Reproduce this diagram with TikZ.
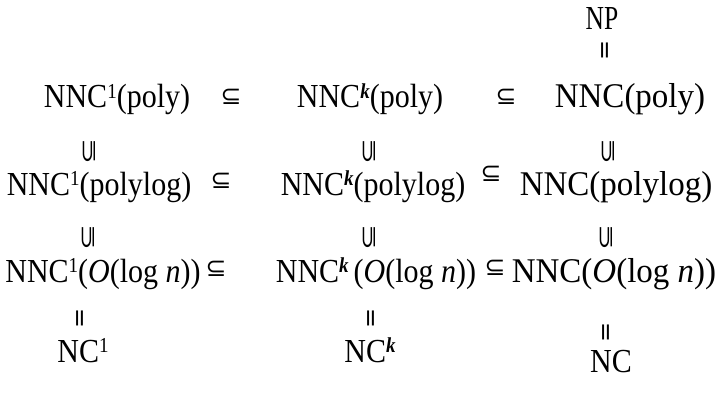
\documentclass[tikz,border=0pt]{standalone}
\usepackage{fontspec}
\setmainfont{Liberation Serif}
\newfontfamily\relfont{DejaVu Sans}
\usetikzlibrary{positioning}

\newcommand{\one}{\raisebox{8.5pt}{\fontsize{19}{22}\selectfont 1}}
\newcommand{\kexp}{\raisebox{8.5pt}{\fontsize{19}{22}\selectfont\bfseries\itshape k}}
\newcommand{\olog}{(\textit{O}(log \textit{n}))}
\newcommand{\tall}[1]{\scalebox{1}[1.12]{#1}}
\newcommand{\subs}{\scalebox{1.25}[0.8]{⊆}}

\begin{document}
\begin{tikzpicture}[
        x=1pt, y=-1pt,
        class/.style={inner sep=0pt, anchor=base, font=\fontsize{30}{36}\selectfont},
        wide/.style={class, font=\fontsize{33}{40}\selectfont},
        incl/.style={inner sep=0pt, font=\relfont\fontsize{25}{30}\selectfont},
        vincl/.style={incl, rotate=90},
        veq/.style={incl, rotate=90, font=\relfont\fontsize{24}{28}\selectfont}
    ]
    \useasboundingbox (0,0) rectangle (720,401);
    % poly
    \node[class] (np) at (602,30) {\scalebox{0.85}[1.12]{NP}};
    \node[veq] (e0) at (607,50) {=};
    \node[class] (p1) at (117,108) {\tall{NNC\one(poly)}};
    \node[incl] (s11) at (231,97) {⊆};
    \node[class] (pk) at (370,108) {\tall{NNC\kexp(poly)}};
    \node[incl] (s12) at (506,97) {⊆};
    \node[wide] (pn) at (630,108) {\scalebox{1}[1.05]{NNC(poly)}};
    \node[vincl] (u11) at (89,151) {\subs};
    \node[vincl] (u12) at (369,151) {\subs};
    \node[vincl] (u13) at (608,151) {\subs};
    % polylog
    \node[class] (l1) at (99,195) {\tall{NNC\one(polylog)}};
    \node[incl] (s21) at (221,181) {⊆};
    \node[class] (lk) at (373,195) {\tall{NNC\kexp(polylog)}};
    \node[incl] (s22) at (491,174) {⊆};
    \node[wide] (ln) at (616,195) {\scalebox{1}[1.05]{NNC(polylog)}};
    \node[vincl] (u21) at (88,237) {\subs};
    \node[vincl] (u22) at (369,237) {\subs};
    \node[vincl] (u23) at (606,237) {\subs};
    % O(log n)
    \node[class] (o1) at (103,282) {\tall{NNC\one\olog}};
    \node[incl] (s31) at (216,269) {⊆};
    \node[class] (ok) at (376,282) {\tall{NNC\kexp\,\olog}};
    \node[incl] (s32) at (495,268) {⊆};
    \node[wide] (on) at (614,282) {\scalebox{1}[1.05]{NNC\olog}};
    \node[veq] (e1) at (82,318) {=};
    \node[veq] (ek) at (373,318) {=};
    \node[veq] (en) at (608,332) {=};
    % NC
    \node[class] (n1) at (83,362) {\tall{NC\one}};
    \node[class] (nk) at (370,362) {\tall{NC\kexp}};
    \node[class] (nn) at (611,372) {\tall{NC}};
\end{tikzpicture}
\end{document}
